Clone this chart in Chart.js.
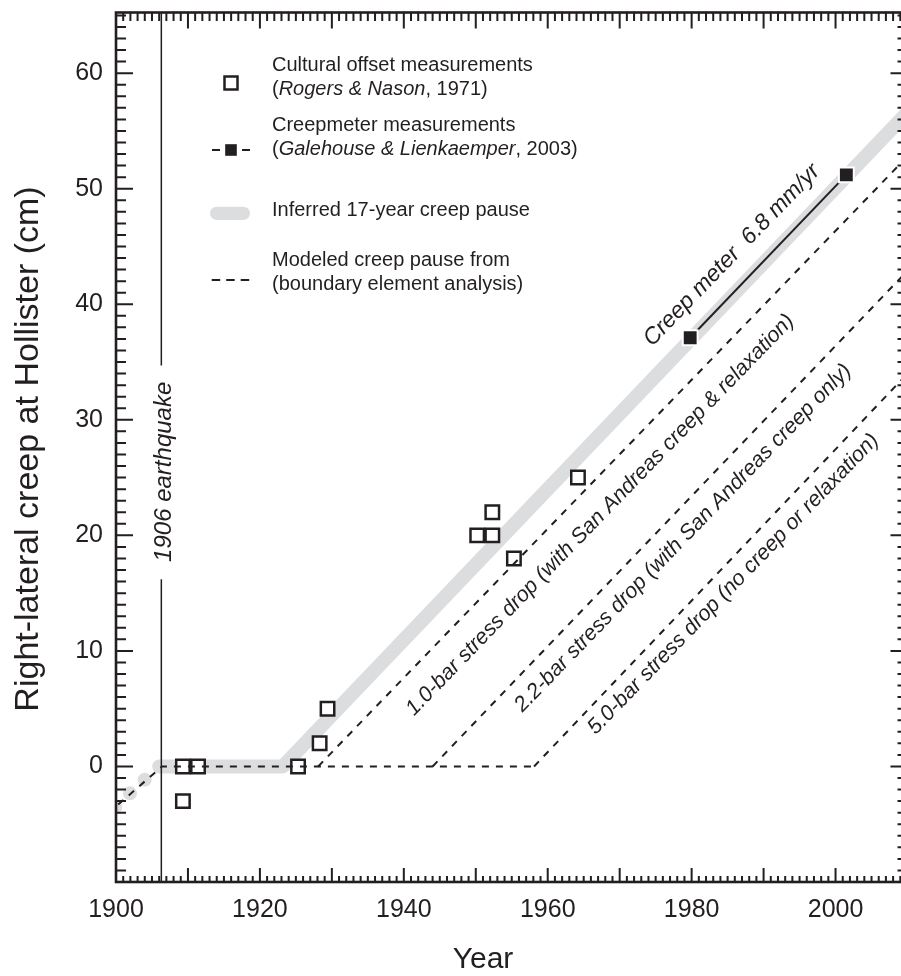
<!DOCTYPE html>
<html>
<head>
<meta charset="utf-8">
<script src="https://cdn.jsdelivr.net/npm/chart.js@4"></script>
<style>
html, body { margin: 0; padding: 0; background: #fff; overflow: hidden; }
#wrap { width: 920px; height: 976px; }
</style>
</head>
<body>
<div id="wrap"><canvas id="myChart" width="920" height="976"></canvas></div>
<script>
// cultural offset measurements (Rogers & Nason, 1971)
const offsetYears = [1909.3, 1909.3, 1911.4, 1925.3, 1928.3, 1929.4, 1950.2, 1952.3, 1952.3, 1955.3, 1964.2]
const offsetCreep = [-3, 0, 0, 0, 2, 5, 20, 20, 22, 18, 25]

// creepmeter (Galehouse & Lienkaemper, 2003)
const meterYears = [1979.8, 2001.5]
const meterCreep = [37.1, 51.2]

// inferred 17-year creep pause (grey band), dotted part before 1906
const preYears = [1899.9, 1906.0]
const preCreep = [-3.5, 0]
const pauseYears = [1906.0, 1923.2, 2010]
const pauseCreep = [0, 0, 56.6]

// modeled creep pause (boundary element analysis)
const baseYears = [1900.3, 1906.4, 1958.1]
const baseCreep = [-3.3, 0, 0]
const bar10Years = [1928.1, 2010]
const bar10Creep = [0, 52.8]
const bar22Years = [1944.0, 2010]
const bar22Creep = [0, 42.9]
const bar50Years = [1958.1, 2010]
const bar50Creep = [0, 34.0]

// 1906 earthquake line (gap for its label)
const quakeYear = 1906.3
const quakeLow = [-10, 16.2]
const quakeHigh = [34.7, 65.25]

const xTicks = [1900, 1920, 1940, 1960, 1980, 2000]
const yTicks = [0, 10, 20, 30, 40, 50, 60]

const ink = '#231f20'
const grey = '#dcdddf'
const fam = '"Liberation Sans", Arial, Helvetica, sans-serif'

const pts = (xs, ys) => xs.map((v, i) => ({ x: v, y: ys[i] }))

const notes = [
    { text: 'Creep meter  6.8 mm/yr', at: [1985.6, 44.25], size: 23 },
    { text: '1.0-bar stress drop (with San Andreas creep & relaxation)', at: [1967.3, 21.76], size: 21.5 },
    { text: '2.2-bar stress drop (with San Andreas creep only)', at: [1978.8, 19.77], size: 21.5 },
    { text: '5.0-bar stress drop (no creep or relaxation)', at: [1985.8, 15.78], size: 21.5 }
]

function runs(ctx, parts, x, y, size) {
    parts.forEach(([t, it]) => {
        ctx.font = (it ? 'italic ' : '') + size + 'px ' + fam
        ctx.fillText(t, x, y)
        x += ctx.measureText(t).width
    })
}

const extras = {
    id: 'extras',
    afterDatasetsDraw(chart) {
        const { ctx, scales: { x, y } } = chart
        ctx.save()
        ctx.fillStyle = ink
        ctx.strokeStyle = ink

        // slanted labels follow the modeled lines
        const dx = x.getPixelForValue(bar10Years[1]) - x.getPixelForValue(bar10Years[0])
        const dy = y.getPixelForValue(bar10Creep[1]) - y.getPixelForValue(bar10Creep[0])
        const ang = Math.atan2(dy, dx)
        ctx.textAlign = 'center'
        ctx.textBaseline = 'middle'
        notes.forEach(n => {
            ctx.save()
            ctx.translate(x.getPixelForValue(n.at[0]), y.getPixelForValue(n.at[1]))
            ctx.rotate(ang)
            ctx.font = 'italic ' + n.size + 'px ' + fam
            ctx.fillText(n.text, 0, 0)
            ctx.restore()
        })

        // earthquake label
        ctx.save()
        ctx.translate(x.getPixelForValue(1906.7), y.getPixelForValue(25.5))
        ctx.rotate(-Math.PI / 2)
        ctx.font = 'italic 24px ' + fam
        ctx.fillText('1906 earthquake', 0, 0)
        ctx.restore()

        // legend
        ctx.textAlign = 'left'
        ctx.textBaseline = 'alphabetic'
        const tx = 272
        runs(ctx, [['Cultural offset measurements', 0]], tx, 70.7, 20)
        runs(ctx, [['(', 0], ['Rogers & Nason', 1], [', 1971)', 0]], tx, 95.2, 20)
        runs(ctx, [['Creepmeter measurements', 0]], tx, 130.5, 20)
        runs(ctx, [['(', 0], ['Galehouse & Lienkaemper', 1], [', 2003)', 0]], tx, 155, 20)
        runs(ctx, [['Inferred 17-year creep pause', 0]], tx, 215.5, 20)
        runs(ctx, [['Modeled creep pause from', 0]], tx, 265.5, 20)
        runs(ctx, [['(boundary element analysis)', 0]], tx, 290, 20)

        ctx.lineWidth = 2.5
        ctx.fillStyle = '#fff'
        ctx.fillRect(224.5, 76.5, 13, 13)
        ctx.strokeRect(224.5, 76.5, 13, 13)
        ctx.fillStyle = ink
        ctx.fillRect(225.2, 144.2, 11.6, 11.6)
        ctx.lineWidth = 2
        ctx.beginPath()
        ctx.moveTo(212, 150); ctx.lineTo(220, 150)
        ctx.moveTo(242, 150); ctx.lineTo(250, 150)
        ctx.stroke()
        ctx.setLineDash([8.5, 6])
        ctx.beginPath()
        ctx.moveTo(211.7, 280); ctx.lineTo(250.5, 280)
        ctx.stroke()
        ctx.setLineDash([])
        ctx.strokeStyle = grey
        ctx.lineWidth = 13.3
        ctx.lineCap = 'round'
        ctx.beginPath()
        ctx.moveTo(216.7, 213.3); ctx.lineTo(243.3, 213.3)
        ctx.stroke()
        ctx.restore()
    },
    afterDraw(chart) {
        const { ctx, chartArea: a, scales: { x, y } } = chart
        ctx.save()
        ctx.strokeStyle = ink
        ctx.lineWidth = 2.6
        ctx.strokeRect(a.left, a.top, a.right - a.left, a.bottom - a.top)
        ctx.lineWidth = 2
        ctx.beginPath()
        for (let yr = 1900; yr <= 2010; yr++) {
            const px = x.getPixelForValue(yr)
            const major = yr % 10 === 0
            ctx.moveTo(px, a.bottom); ctx.lineTo(px, a.bottom - (major ? 14 : 6))
            ctx.moveTo(px, a.top); ctx.lineTo(px, a.top + (major ? 16 : 8.5))
        }
        for (let v = -10; v <= 65; v++) {
            const py = y.getPixelForValue(v)
            const major = v % 10 === 0
            ctx.moveTo(a.left, py); ctx.lineTo(a.left + (major ? 17 : 10), py)
            ctx.moveTo(a.right, py); ctx.lineTo(a.right - (major ? 17 : 10), py)
        }
        ctx.stroke()

        // axis titles
        ctx.fillStyle = ink
        ctx.font = '30px ' + fam
        ctx.textAlign = 'center'
        ctx.textBaseline = 'alphabetic'
        ctx.fillText('Year', 483, 968.3)
        ctx.translate(38, 449)
        ctx.rotate(-Math.PI / 2)
        ctx.font = '34px ' + fam
        ctx.fillText('Right-lateral creep at Hollister (cm)', 0, 0)
        ctx.restore()
    }
}

const dashed = (xs, ys) => ({
    data: pts(xs, ys),
    showLine: true,
    borderColor: ink,
    borderWidth: 2,
    borderDash: [7, 7],
    pointRadius: 0,
    clip: 0,
    order: 3
})

const ctx = document.getElementById('myChart')
new Chart(ctx, {
    type: 'scatter',
    data: {
        datasets: [
            {
                data: pts(preYears, preCreep),
                showLine: true,
                borderColor: grey,
                borderWidth: 14,
                borderDash: [0, 20],
                borderCapStyle: 'round',
                pointRadius: 0,
                clip: 0,
                order: 10
            },
            {
                data: pts(pauseYears, pauseCreep),
                showLine: true,
                borderColor: grey,
                borderWidth: 14,
                borderCapStyle: 'round',
                borderJoinStyle: 'round',
                pointRadius: 0,
                clip: 0,
                order: 9
            },
            {
                data: pts([quakeYear, quakeYear], quakeLow),
                showLine: true,
                borderColor: ink,
                borderWidth: 1.5,
                pointRadius: 0,
                clip: 0,
                order: 8
            },
            {
                data: pts([quakeYear, quakeYear], quakeHigh),
                showLine: true,
                borderColor: ink,
                borderWidth: 1.5,
                pointRadius: 0,
                clip: 0,
                order: 8
            },
            {
                data: pts(offsetYears, offsetCreep),
                pointStyle: 'rect',
                pointRadius: 9.5,
                pointBorderWidth: 2.5,
                pointBackgroundColor: '#fff',
                pointBorderColor: ink,
                order: 5
            },
            dashed(baseYears, baseCreep),
            dashed(bar10Years, bar10Creep),
            dashed(bar22Years, bar22Creep),
            dashed(bar50Years, bar50Creep),
            {
                data: pts(meterYears, meterCreep),
                showLine: true,
                borderColor: ink,
                borderWidth: 2,
                pointStyle: 'rect',
                pointRadius: 10.5,
                pointBorderWidth: 2,
                pointBackgroundColor: ink,
                pointBorderColor: '#fff',
                order: 1
            }
        ]
    },
    options: {
        responsive: false,
        animation: false,
        layout: { padding: { top: 7.5, right: 11, left: 0, bottom: 0 } },
        plugins: { legend: { display: false }, tooltip: { enabled: false } },
        scales: {
            x: {
                type: 'linear',
                min: 1900,
                max: 2010,
                grid: { display: false, drawTicks: false },
                border: { display: false },
                afterBuildTicks: s => { s.ticks = xTicks.map(v => ({ value: v })) },
                afterFit: s => { s.height = 94; s.paddingLeft = 0; s.paddingRight = 0 },
                ticks: {
                    callback: v => String(v),
                    font: { family: fam, size: 25 },
                    color: ink,
                    padding: 13,
                    maxRotation: 0,
                    autoSkip: false
                }
            },
            y: {
                type: 'linear',
                min: -10,
                max: 65.25,
                grid: { display: false, drawTicks: false },
                border: { display: false },
                afterBuildTicks: s => { s.ticks = yTicks.map(v => ({ value: v })) },
                afterFit: s => { s.width = 116; s.paddingTop = 0; s.paddingBottom = 0 },
                ticks: {
                    callback: v => String(v),
                    font: { family: fam, size: 25 },
                    color: ink,
                    padding: 13
                }
            }
        }
    },
    plugins: [extras]
})
</script>
</body>
</html>
